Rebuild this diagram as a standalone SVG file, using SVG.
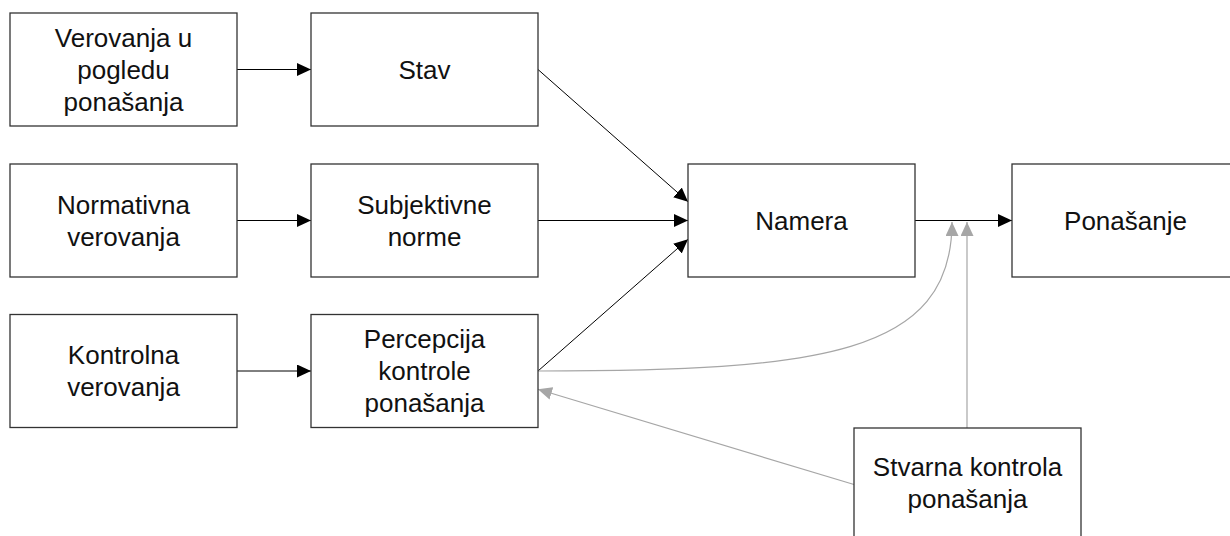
<svg xmlns="http://www.w3.org/2000/svg" width="1230" height="536" viewBox="0 0 1230 536">
  <style>
    .box { fill: #ffffff; stroke: #333333; stroke-width: 1.3; }
    .lbl { font-family: "Liberation Sans", Arial, sans-serif; font-size: 26px; fill: #111111; text-anchor: middle; }
    .link { fill: none; stroke: #000000; stroke-width: 1; }
    .ctl { fill: none; stroke: #a6a6a6; stroke-width: 1.2; }
  </style>
  <defs>
    <marker id="arrowBlack" viewBox="0 0 14 13" refX="14" refY="6.5" markerWidth="14" markerHeight="13" markerUnits="userSpaceOnUse" orient="auto">
      <path d="M0,0 L14,6.5 L0,13 Z" fill="#000000"/>
    </marker>
    <marker id="arrowGray" viewBox="0 0 14 13" refX="14" refY="6.5" markerWidth="14" markerHeight="13" markerUnits="userSpaceOnUse" orient="auto">
      <path d="M0,0 L14,6.5 L0,13 Z" fill="#a6a6a6"/>
    </marker>
  </defs>

  <rect width="1230" height="536" fill="#ffffff"/>

  <!-- connectors -->
  <g id="connectors">
    <line class="link" x1="237" y1="69.5" x2="311" y2="69.5" marker-end="url(#arrowBlack)"/>
    <line class="link" x1="237" y1="220.5" x2="311" y2="220.5" marker-end="url(#arrowBlack)"/>
    <line class="link" x1="237" y1="371" x2="311" y2="371" marker-end="url(#arrowBlack)"/>
    <line class="link" x1="538" y1="69.5" x2="688" y2="201.7" marker-end="url(#arrowBlack)"/>
    <line class="link" x1="538" y1="220.5" x2="688" y2="220.5" marker-end="url(#arrowBlack)"/>
    <line class="link" x1="538" y1="371" x2="688" y2="239.3" marker-end="url(#arrowBlack)"/>
    <line class="link" x1="915" y1="220.5" x2="1012" y2="220.5" marker-end="url(#arrowBlack)"/>
    <path class="ctl" d="M538,371 C820,371 952,355 952,222" marker-end="url(#arrowGray)"/>
    <line class="ctl" x1="967" y1="428" x2="967" y2="222" marker-end="url(#arrowGray)"/>
    <line class="ctl" x1="854" y1="484.5" x2="538" y2="389.3" marker-end="url(#arrowGray)"/>
  </g>

  <g id="verovanja-pogled">
    <rect class="box" x="10" y="13" width="227" height="113"/>
    <text class="lbl" x="123.5" y="46.5">Verovanja u</text>
    <text class="lbl" x="123.5" y="78.5">pogledu</text>
    <text class="lbl" x="123.5" y="110.5">ponašanja</text>
  </g>
  <g id="stav">
    <rect class="box" x="311" y="13" width="227" height="113"/>
    <text class="lbl" x="424.5" y="78.5">Stav</text>
  </g>
  <g id="normativna">
    <rect class="box" x="10" y="164" width="227" height="113"/>
    <text class="lbl" x="123.5" y="213.5">Normativna</text>
    <text class="lbl" x="123.5" y="245.5">verovanja</text>
  </g>
  <g id="subjektivne">
    <rect class="box" x="311" y="164" width="227" height="113"/>
    <text class="lbl" x="424.5" y="213.5">Subjektivne</text>
    <text class="lbl" x="424.5" y="245.5">norme</text>
  </g>
  <g id="kontrolna">
    <rect class="box" x="10" y="314.5" width="227" height="113"/>
    <text class="lbl" x="123.5" y="364">Kontrolna</text>
    <text class="lbl" x="123.5" y="396">verovanja</text>
  </g>
  <g id="percepcija">
    <rect class="box" x="311" y="314.5" width="227" height="113"/>
    <text class="lbl" x="424.5" y="348">Percepcija</text>
    <text class="lbl" x="424.5" y="380">kontrole</text>
    <text class="lbl" x="424.5" y="412">ponašanja</text>
  </g>
  <g id="namera">
    <rect class="box" x="688" y="164" width="227" height="113"/>
    <text class="lbl" x="801.5" y="229.5">Namera</text>
  </g>
  <g id="ponasanje">
    <rect class="box" x="1012" y="164" width="227" height="113"/>
    <text class="lbl" x="1125.5" y="229.5">Ponašanje</text>
  </g>
  <g id="stvarna-kontrola">
    <rect class="box" x="854" y="428" width="227" height="113"/>
    <text class="lbl" x="967.5" y="476">Stvarna kontrola</text>
    <text class="lbl" x="967.5" y="508">ponašanja</text>
  </g>
</svg>
